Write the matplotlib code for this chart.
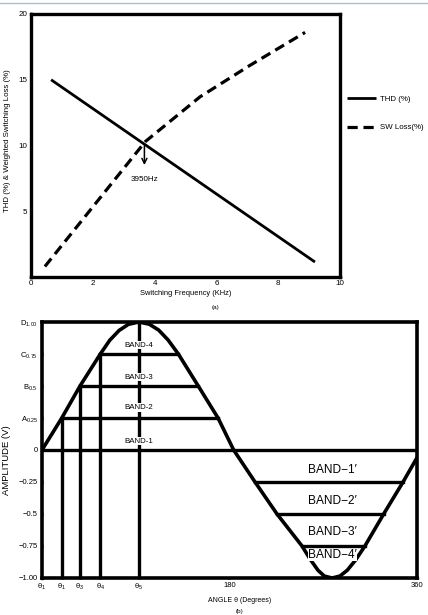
import matplotlib
matplotlib.use('Agg')
import matplotlib.pyplot as plt
from matplotlib.lines import Line2D

plt.rcParams['font.family'] = ['Liberation Sans', 'DejaVu Sans']
plt.rcParams['mathtext.fontset'] = 'custom'
plt.rcParams['mathtext.rm'] = 'Liberation Sans'
plt.rcParams['mathtext.it'] = 'Liberation Sans'
plt.rcParams['mathtext.default'] = 'rm'

# ---------------- panel (a) data ----------------
thd_freq = [0.65, 9.19]
thd_vals = [15.0, 1.14]
sw_freq = [0.45, 3.7, 5.47, 7.09, 8.87]
sw_vals = [0.8, 10.3, 13.7, 16.1, 18.6]
a_xticks = [0, 2, 4, 6, 8, 10]
a_xlabels = ['0', '2', '4', '6', '8', '10']
a_yticks = [0, 5, 10, 15, 20]
a_ylabels = ['', '5', '10', '15', '20']
cross_freq = 3.67
cross_top = 10.2
cross_bottom = 8.3
cross_label = '3950Hz'

# ---------------- panel (b) data ----------------
curve_angle = [0, 19, 36.5, 56, 65, 74, 83, 93, 103, 112, 121, 130.9, 150, 169, 184,
               204.5, 225.6, 249.6, 258, 265, 271, 278.5, 286, 293, 301, 310, 328, 346.6, 360]
curve_amp = [0, 0.25, 0.5, 0.75, 0.857, 0.934, 0.982, 1.0, 0.983, 0.937, 0.86, 0.75, 0.5, 0.25, 0,
             -0.25, -0.5, -0.75, -0.86, -0.94, -0.985, -1.0, -0.985, -0.94, -0.86, -0.75, -0.5, -0.25, -0.06]
pos_levels = [0.25, 0.5, 0.75]
pos_left = [19, 36.5, 56]
pos_right = [169, 150, 130.9]
vert_angles = [19, 36.5, 56, 93]
vert_tops = [0.25, 0.5, 0.75, 1.0]
neg_levels = [-0.25, -0.5, -0.75]
neg_left = [204.5, 225.6, 249.6]
neg_right = [346.6, 328, 310]
b_xticks = [0, 19, 36.5, 56, 93, 180, 360]
b_xlabels = [r'θ$_1$', r'θ$_1$', r'θ$_3$', r'θ$_4$', r'θ$_5$', '180', '360']
b_yticks = [1.0, 0.75, 0.5, 0.25, 0, -0.25, -0.5, -0.75, -1.0]
b_ylabels = [r'D$_{1.00}$', r'C$_{0.75}$', r'B$_{0.5}$', r'A$_{0.25}$', '0',
             '\u22120.25', '\u22120.5', '\u22120.75', '\u22121.00']
band_pos_text = ['BAND-1', 'BAND-2', 'BAND-3', 'BAND-4']
band_pos_y = [0.07, 0.33, 0.57, 0.82]
band_neg_text = ['BAND\u22121\u2032', 'BAND\u22122\u2032', 'BAND\u22123\u2032', 'BAND\u22124\u2032']
band_neg_y = [-0.155, -0.395, -0.64, -0.82]
band_neg_x = 279

W, H = 428, 615
fig = plt.figure(figsize=(W / 100, H / 100), dpi=100)

# journal header rule
fig.add_artist(Line2D([0, 1], [1 - 3 / H, 1 - 3 / H], color='#9fc3de', lw=1.0))

# ================= panel (a) =================
ax1 = fig.add_axes([31 / W, 1 - 277 / H, (340 - 31) / W, (277 - 14) / H])
ax1.plot(thd_freq, thd_vals, color='black', lw=2.0, solid_capstyle='butt', label='THD (%)')
ax1.plot(sw_freq, sw_vals, color='black', lw=2.3, dashes=(3.2, 1.8), label='SW Loss(%)')
ax1.annotate('', xy=(cross_freq, cross_bottom), xytext=(cross_freq, cross_top),
             arrowprops=dict(arrowstyle='->', lw=1.1, color='black', mutation_scale=9))
ax1.text(cross_freq, 7.45, cross_label, fontsize=5.8, ha='center', va='center')
ax1.set_xlim(0, 10)
ax1.set_ylim(0, 20)
ax1.set_xticks(a_xticks)
ax1.set_xticklabels(a_xlabels)
ax1.set_yticks(a_yticks)
ax1.set_yticklabels(a_ylabels)
ax1.tick_params(axis='both', labelsize=5.8, length=2, width=2.5, direction='inout', pad=1.5)
for s in ax1.spines.values():
    s.set_linewidth(2.4)
ax1.set_xlabel('Switching Frequency (KHz)', fontsize=5.4, labelpad=2)
ax1.set_ylabel('THD (%) & Weighted Switching Loss (%)', fontsize=5.7, labelpad=6)
ax1.yaxis.set_label_coords(-0.066, 0.52)
fig.legend(*ax1.get_legend_handles_labels(), loc='center left',
           bbox_to_anchor=(347 / W, 1 - 113.5 / H), frameon=False, fontsize=5.7,
           handlelength=3.6, handletextpad=0.6, labelspacing=2.6, borderpad=0, borderaxespad=0)
fig.text(215 / W, 1 - 308 / H, '(a)', fontsize=4.5, ha='center', va='center')

# ================= panel (b) =================
ax2 = fig.add_axes([42 / W, 1 - 578 / H, (417 - 42) / W, (578 - 322) / H])
LW = 2.4
ax2.plot(curve_angle, curve_amp, color='black', lw=2.6, solid_joinstyle='round', zorder=3)
ax2.plot([0, 360], [0, 0], color='black', lw=LW, zorder=2)
for lv, l, r in zip(pos_levels, pos_left, pos_right):
    ax2.plot([l, r], [lv, lv], color='black', lw=LW, zorder=2)
for lv, l, r in zip(neg_levels, neg_left, neg_right):
    ax2.plot([l, r], [lv, lv], color='black', lw=LW, zorder=2)
for a, t in zip(vert_angles, vert_tops):
    ax2.plot([a, a], [-1, t], color='black', lw=LW, zorder=2)
for txt, y in zip(band_pos_text, band_pos_y):
    ax2.text(vert_angles[-1], y, txt, fontsize=5.7, ha='center', va='center', zorder=4,
             bbox=dict(facecolor='white', edgecolor='none', pad=0.6))
for txt, y in zip(band_neg_text, band_neg_y):
    ax2.text(band_neg_x, y, txt, fontsize=8.6, ha='center', va='center', zorder=4,
             bbox=dict(facecolor='white', edgecolor='none', pad=0.2) if txt.endswith('4\u2032') else None)
ax2.set_xlim(0, 360)
ax2.set_ylim(-1, 1)
ax2.set_xticks(b_xticks)
ax2.set_xticklabels(b_xlabels)
ax2.set_yticks(b_yticks)
ax2.set_yticklabels(b_ylabels)
ax2.tick_params(axis='both', labelsize=5.5, length=2, width=2.5, direction='inout', pad=2)
for s in ax2.spines.values():
    s.set_linewidth(2.6)
ax2.set_xlabel('ANGLE θ (Degrees)', fontsize=5.0, labelpad=2)
ax2.xaxis.set_label_coords((240 - 42) / (417 - 42), -0.075)
ax2.set_ylabel('AMPLITUDE (V)', fontsize=6.8)
ax2.yaxis.set_label_coords(-0.082, 0.46)
fig.text(240 / W, 1 - 612 / H, '(b)', fontsize=4.5, ha='center', va='center')

fig.savefig('out.png', dpi=100)
